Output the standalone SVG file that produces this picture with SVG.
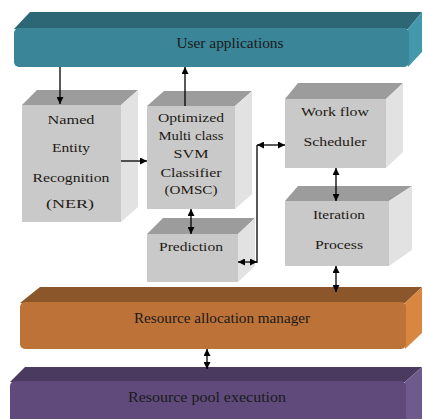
<svg xmlns="http://www.w3.org/2000/svg" width="423" height="419" viewBox="0 0 423 419">
<defs>
<marker id="ah" viewBox="0 0 8 8" refX="8" refY="4" markerWidth="7" markerHeight="7" markerUnits="userSpaceOnUse" orient="auto-start-reverse"><path d="M0,0 L8,4 L0,8 z" fill="#000"/></marker>
<style>
text{font-family:'Liberation Serif','Times New Roman',serif;text-anchor:middle}
.t{font-size:13px;fill:#1e1a14}
.tb{font-size:14px;fill:#1a1a1a}
.bt{fill:#9c9c9c}.bf{fill:#c9c9c9}.bs{fill:#e2e2e2}
.c{stroke:#000;stroke-width:1.3;fill:none}
</style>
</defs>
<rect width="423" height="419" fill="#fff"/>
<g id="user-applications">
<polygon points="14,29 30,12 422,12 408,29" fill="#2d6675"/>
<polygon points="408,29 422,12 422,52 408,67" fill="#4398ab"/>
<rect x="14" y="28" width="395" height="39" rx="5" fill="#3a8597"/>
<text class="tb" x="230" y="48" textLength="107" lengthAdjust="spacingAndGlyphs">User applications</text>
</g>
<g id="ner">
<polygon points="22,105 37,90 138,90 121,105" class="bt"/>
<polygon points="121,105 138,90 138,207 121,222" class="bs"/>
<rect x="22" y="105" width="99" height="117" class="bf"/>
<text class="t" x="71" y="124" textLength="47" lengthAdjust="spacingAndGlyphs">Named</text>
<text class="t" x="71" y="152" textLength="38" lengthAdjust="spacingAndGlyphs">Entity</text>
<text class="t" x="71" y="182" textLength="77" lengthAdjust="spacingAndGlyphs">Recognition</text>
<text class="t" x="70" y="208" textLength="48" lengthAdjust="spacingAndGlyphs">(NER)</text>
</g>
<g id="omsc">
<polygon points="147,106 164,91 252,91 235,106" class="bt"/>
<polygon points="235,106 252,91 252,194 235,209" class="bs"/>
<rect x="147" y="106" width="88" height="103" class="bf"/>
<text class="t" x="191" y="122" textLength="66" lengthAdjust="spacingAndGlyphs">Optimized</text>
<text class="t" x="191" y="140" textLength="65" lengthAdjust="spacingAndGlyphs">Multi class</text>
<text class="t" x="191" y="158" textLength="35" lengthAdjust="spacingAndGlyphs">SVM</text>
<text class="t" x="191" y="177" textLength="61" lengthAdjust="spacingAndGlyphs">Classifier</text>
<text class="t" x="191" y="194" textLength="53" lengthAdjust="spacingAndGlyphs">(OMSC)</text>
</g>
<g id="prediction">
<polygon points="147,234 163,218 255,218 238,234" class="bt"/>
<polygon points="238,234 255,218 255,266 238,282" class="bs"/>
<rect x="147" y="234" width="91" height="48" class="bf"/>
<text class="t" x="191" y="251" textLength="64" lengthAdjust="spacingAndGlyphs">Prediction</text>
</g>
<g id="workflow-scheduler">
<polygon points="285,99 298,83 403,83 386,99" class="bt"/>
<polygon points="386,99 403,83 403,152 386,168" class="bs"/>
<rect x="285" y="99" width="101" height="69" class="bf"/>
<text class="t" x="335" y="116" textLength="68" lengthAdjust="spacingAndGlyphs">Work flow</text>
<text class="t" x="335" y="146" textLength="63" lengthAdjust="spacingAndGlyphs">Scheduler</text>
</g>
<g id="iteration-process">
<polygon points="285,201 298,186 412,186 389,201" class="bt"/>
<polygon points="389,201 412,186 412,250 389,266" class="bs"/>
<rect x="285" y="201" width="104" height="65" class="bf"/>
<text class="t" x="339" y="219" textLength="52" lengthAdjust="spacingAndGlyphs">Iteration</text>
<text class="t" x="339" y="249" textLength="48" lengthAdjust="spacingAndGlyphs">Process</text>
</g>
<g id="resource-allocation-manager">
<polygon points="20,303 40,287 422,287 405,303" fill="#8b5629"/>
<polygon points="405,303 422,287 422,333 405,349" fill="#d88640"/>
<rect x="20" y="302" width="386" height="47" rx="5" fill="#bd7238"/>
<text class="tb" x="222" y="323" textLength="176" lengthAdjust="spacingAndGlyphs">Resource allocation manager</text>
</g>
<g id="resource-pool-execution">
<polygon points="10,382 25,367 422,367 405,382" fill="#4b3a5f"/>
<polygon points="405,382 422,367 422,419 405,419" fill="#6f5a8d"/>
<rect x="10" y="381" width="396" height="45" rx="5" fill="#5f4a7b"/>
<text class="tb" x="207" y="402" textLength="158" lengthAdjust="spacingAndGlyphs">Resource pool execution</text>
</g>
<g id="connectors">
<line class="c" x1="60" y1="67" x2="60" y2="104" marker-end="url(#ah)"/>
<line class="c" x1="185" y1="106" x2="185" y2="67" marker-end="url(#ah)"/>
<line class="c" x1="121" y1="161" x2="147" y2="161" marker-end="url(#ah)"/>
<line class="c" x1="191" y1="209" x2="191" y2="234" marker-start="url(#ah)" marker-end="url(#ah)"/>
<line class="c" x1="257" y1="145" x2="257" y2="263"/>
<line class="c" x1="257" y1="145" x2="285" y2="145" marker-start="url(#ah)" marker-end="url(#ah)"/>
<line class="c" x1="238" y1="262" x2="257" y2="262" marker-start="url(#ah)" marker-end="url(#ah)"/>
<line class="c" x1="336" y1="168" x2="336" y2="201" marker-start="url(#ah)" marker-end="url(#ah)"/>
<line class="c" x1="336" y1="266" x2="336" y2="292" marker-start="url(#ah)" marker-end="url(#ah)"/>
<line class="c" x1="207" y1="349" x2="207" y2="369" marker-start="url(#ah)" marker-end="url(#ah)"/>
</g>
</svg>
